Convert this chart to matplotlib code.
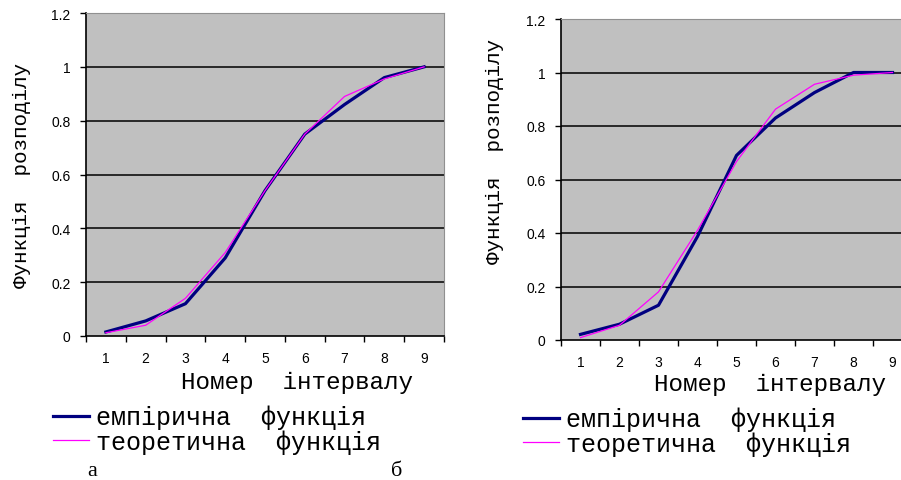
import matplotlib
matplotlib.use("Agg")
import matplotlib.pyplot as plt
from matplotlib.lines import Line2D

intervals = [1, 2, 3, 4, 5, 6, 7, 8, 9]
y_ticks = [0, 0.2, 0.4, 0.6, 0.8, 1.0, 1.2]
y_tick_labels = ["0", "0.2", "0.4", "0.6", "0.8", "1", "1.2"]

emp_a = [0.015, 0.056, 0.12, 0.29, 0.54, 0.75, 0.86, 0.96, 1.0]
theor_a = [0.012, 0.04, 0.14, 0.31, 0.54, 0.75, 0.89, 0.955, 1.0]

emp_b = [0.021, 0.059, 0.13, 0.387, 0.69, 0.83, 0.925, 1.0, 1.0]
theor_b = [0.009, 0.055, 0.18, 0.41, 0.667, 0.863, 0.956, 0.99, 1.0]

legend_labels = ["емпірична  функція", "теоретична  функція"]
ylabel = "Функція  розподілу"
xlabel = "Номер  інтервалу"

W, H = 901, 481
fig = plt.figure(figsize=(W / 100, H / 100), dpi=100)
fig.patch.set_facecolor("white")

MONO = "Liberation Mono"
SERIF = "Liberation Serif"
SANS = "Liberation Sans"
EMP_C = "#000080"
TH_C = "#FF00FF"


def make_axes(x0, x1, ytop, ybot):
    return fig.add_axes([x0 / W, (H - ybot) / H, (x1 - x0) / W, (ybot - ytop) / H])


def draw(ax, emp, theor):
    ax.set_facecolor("#C0C0C0")
    ax.set_xlim(0.5, 9.5)
    ax.set_ylim(0, 1.2)
    for t in y_ticks[1:-1]:
        ax.axhline(t, color="black", lw=1.1, zorder=1)
    ax.plot(intervals, emp, color=EMP_C, lw=2.3, zorder=3, solid_joinstyle="round")
    ax.plot(intervals, theor, color=TH_C, lw=0.9, zorder=4)
    ax.set_yticks(y_ticks)
    ax.set_yticklabels(y_tick_labels, fontfamily=SANS, fontsize=10)
    ax.set_xticks(intervals)
    ax.set_xticklabels([str(i) for i in intervals], fontfamily=SANS, fontsize=10)
    ax.set_xticks([i - 0.5 for i in intervals] + [9.5], minor=True)
    ax.tick_params(axis="x", which="major", length=0, pad=11)
    ax.tick_params(axis="x", which="minor", length=4, width=1, direction="out")
    ax.tick_params(axis="y", which="major", length=4, width=1, direction="out", pad=7)
    for s in ("top", "right"):
        ax.spines[s].set_color("#909090")
        ax.spines[s].set_linewidth(0.8)
    for s in ("left", "bottom"):
        ax.spines[s].set_color("black")
        ax.spines[s].set_linewidth(1.2)


ax1 = make_axes(86, 444, 14, 337)
draw(ax1, emp_a, theor_a)
ax2 = make_axes(561, 912, 20, 341)
draw(ax2, emp_b, theor_b)

# axis titles
fig.text(22 / W, 1 - 176 / H, ylabel, rotation=90, fontfamily=MONO, fontsize=15,
         ha="center", va="center")
fig.text(495 / W, 1 - 151 / H, ylabel, rotation=90, fontfamily=MONO, fontsize=15,
         ha="center", va="center")
fig.text(297 / W, 1 - 382 / H, xlabel, fontfamily=MONO, fontsize=17.5,
         ha="center", va="center")
fig.text(770 / W, 1 - 385 / H, xlabel, fontfamily=MONO, fontsize=17.5,
         ha="center", va="center")

# legends
handles = [Line2D([], [], color=EMP_C, lw=2.3), Line2D([], [], color=TH_C, lw=0.9)]


def legend_at(x, y):
    fig.legend(handles, legend_labels, loc="upper left", bbox_to_anchor=(x / W, 1 - y / H),
               frameon=False, handlelength=1.45, handletextpad=0.25, labelspacing=0.0,
               borderaxespad=0, borderpad=0,
               prop={"family": MONO, "size": 18})


legend_at(53, 406)
legend_at(523, 408)

fig.text(92 / W, 1 - 472 / H, "а", fontfamily=SERIF, fontsize=16, ha="center", va="center")
fig.text(397 / W, 1 - 472 / H, "б", fontfamily=SERIF, fontsize=16, ha="center", va="center")

fig.savefig("out.png", dpi=100)
